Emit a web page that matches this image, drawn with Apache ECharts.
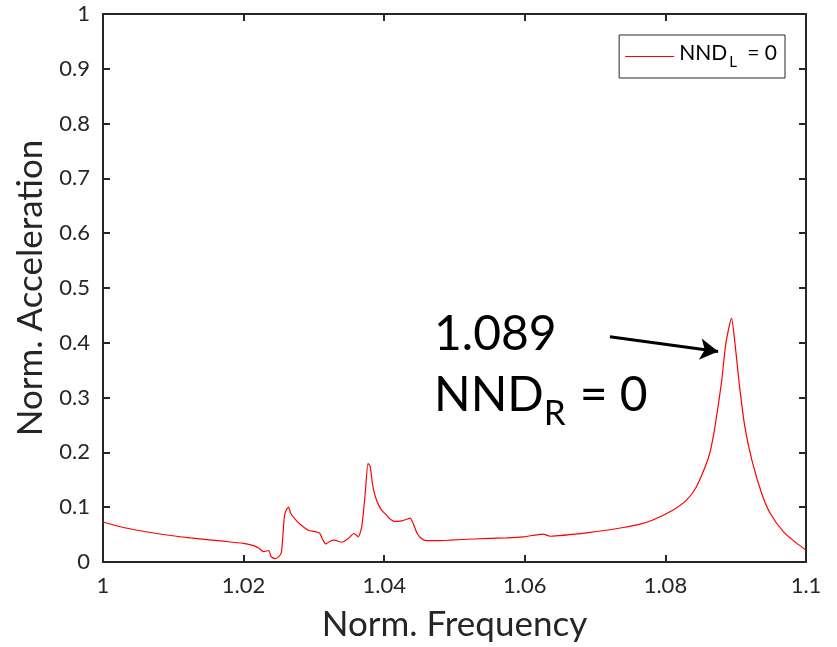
<!DOCTYPE html>
<html>
<head>
<meta charset="utf-8">
<title>Norm. Acceleration</title>
<script src="https://cdn.jsdelivr.net/npm/echarts@6/dist/echarts.min.js"></script>
<style>
  html, body { margin: 0; padding: 0; background: #fff; }
  #chart { width: 837px; height: 647px; }
</style>
</head>
<body>
<div id="chart"></div>
<script>
// values
var freq = [1.0000, 1.0029, 1.0076, 1.0124, 1.0171, 1.0200, 1.0214, 1.0222, 1.0228, 1.0236,
  1.0239, 1.0245, 1.0251, 1.0254, 1.0258, 1.0261, 1.0264, 1.0267, 1.0276, 1.0283,
  1.0292, 1.0303, 1.0308, 1.0313, 1.0317, 1.0323, 1.0329, 1.0340, 1.0349, 1.0357,
  1.0363, 1.0368, 1.0373, 1.0377, 1.0380, 1.0384, 1.0389, 1.0396, 1.0403, 1.0407,
  1.0415, 1.0425, 1.0432, 1.0437, 1.0441, 1.0447, 1.0453, 1.0460, 1.0479, 1.0494,
  1.0527, 1.0574, 1.0598, 1.0626, 1.0636, 1.0693, 1.0740, 1.0764, 1.0783, 1.0811,
  1.0830, 1.0844, 1.0856, 1.0863, 1.0869, 1.0875, 1.0880, 1.0886, 1.0894, 1.0899,
  1.0905, 1.0913, 1.0923, 1.0937, 1.0949, 1.0968, 1.0987, 1.1000];
var accel = [0.073, 0.063, 0.052, 0.044, 0.038, 0.034, 0.030, 0.025, 0.019, 0.021,
  0.010, 0.006, 0.011, 0.019, 0.083, 0.096, 0.100, 0.089, 0.074, 0.066,
  0.058, 0.055, 0.053, 0.040, 0.033, 0.038, 0.040, 0.036, 0.043, 0.052,
  0.046, 0.064, 0.125, 0.180, 0.174, 0.137, 0.113, 0.095, 0.086, 0.080,
  0.074, 0.075, 0.078, 0.080, 0.071, 0.052, 0.043, 0.039, 0.039, 0.040,
  0.042, 0.044, 0.046, 0.051, 0.047, 0.054, 0.063, 0.069, 0.077, 0.095,
  0.113, 0.137, 0.172, 0.198, 0.235, 0.285, 0.330, 0.399, 0.445, 0.399,
  0.326, 0.247, 0.186, 0.125, 0.089, 0.055, 0.034, 0.022];
var xTicks = [1, 1.02, 1.04, 1.06, 1.08, 1.1];
var yTicks = [0, 0.1, 0.2, 0.3, 0.4, 0.5, 0.6, 0.7, 0.8, 0.9, 1];
var arrowFrom = [1.0721, 0.411];
var arrowTo = [1.0875, 0.384];

var font = 'Lato';
var ink = '#262626';

var points = freq.map(function (f, i) { return [f, accel[i]]; });

var chart = echarts.init(document.getElementById('chart'));

function axisBase(pos, showLabels) {
  return {
    type: 'value',
    position: pos,
    axisLine: { show: true, onZero: false, lineStyle: { color: ink, width: 2 } },
    axisTick: { show: true, inside: true, length: 7, lineStyle: { color: ink, width: 2 } },
    splitLine: { show: false },
    axisLabel: { show: showLabels, color: ink, fontFamily: font, fontSize: 22, margin: 13 }
  };
}

var xBottom = axisBase('bottom', true);
xBottom.min = xTicks[0];
xBottom.max = xTicks[xTicks.length - 1];
xBottom.interval = 0.02;
xBottom.axisLabel.formatter = function (v) { return String(+v.toFixed(2)); };
xBottom.name = 'Norm. Frequency';
xBottom.nameLocation = 'middle';
xBottom.nameGap = 45;
xBottom.nameTextStyle = { color: ink, fontFamily: font, fontSize: 35 };

var xTop = axisBase('top', false);
xTop.min = xBottom.min; xTop.max = xBottom.max; xTop.interval = 0.02;

var yLeft = axisBase('left', true);
yLeft.min = yTicks[0];
yLeft.max = yTicks[yTicks.length - 1];
yLeft.interval = 0.1;
yLeft.axisLabel.formatter = function (v) { return String(+v.toFixed(1)); };
yLeft.name = 'Norm. Acceleration';
yLeft.nameLocation = 'middle';
yLeft.nameGap = 52;
yLeft.nameTextStyle = { color: ink, fontFamily: font, fontSize: 35 };

var yRight = axisBase('right', false);
yRight.min = yLeft.min; yRight.max = yLeft.max; yRight.interval = 0.1;

var option = {
  backgroundColor: '#fff',
  animation: false,
  grid: { left: 103, right: 31, top: 14, bottom: 85, outerBoundsMode: 'none' },
  legend: {
    right: 52,
    top: 35,
    data: ['NND_L = 0'],
    icon: 'rect',
    itemWidth: 49,
    itemHeight: 1,
    itemGap: 0,
    padding: [8, 8, 8, 6],
    borderColor: ink,
    borderWidth: 1,
    borderRadius: 0,
    backgroundColor: '#fff',
    formatter: function () { return '{a|NND}{s|L}{a| = 0}'; },
    textStyle: {
      rich: {
        a: { fontFamily: font, fontSize: 21, color: '#000', verticalAlign: 'top', lineHeight: 27 },
        s: { fontFamily: font, fontSize: 15, color: '#000', verticalAlign: 'top', lineHeight: 17, padding: [12, 5, 0, 2] }
      }
    }
  },
  xAxis: [xBottom, xTop],
  yAxis: [yLeft, yRight],
  series: [{
    name: 'NND_L = 0',
    type: 'line',
    data: points,
    showSymbol: false,
    smooth: 0.2,
    lineStyle: { color: '#ff0000', width: 1.2 },
    itemStyle: { color: '#ff0000' },
    markLine: {
      silent: true,
      symbol: ['none', 'arrow'],
      symbolSize: [16, 18],
      label: { show: false },
      lineStyle: { color: '#000', width: 3, type: 'solid' },
      data: [[{ coord: arrowFrom }, { coord: arrowTo }]]
    }
  }],
  graphic: [{
    type: 'text',
    left: 434,
    top: 311,
    style: { text: '1.089', fontFamily: font, fontSize: 48, fill: '#000' }
  }, {
    type: 'text',
    left: 434,
    top: 372,
    style: {
      text: '{a|NND}{s|R}{a|= 0}',
      rich: {
        a: { fontFamily: font, fontSize: 48, fill: '#000', verticalAlign: 'top', lineHeight: 50 },
        s: { fontFamily: font, fontSize: 35, fill: '#000', verticalAlign: 'top', lineHeight: 37, padding: [24, 14, 0, 0] }
      }
    }
  }]
};

chart.setOption(option);
</script>
</body>
</html>
